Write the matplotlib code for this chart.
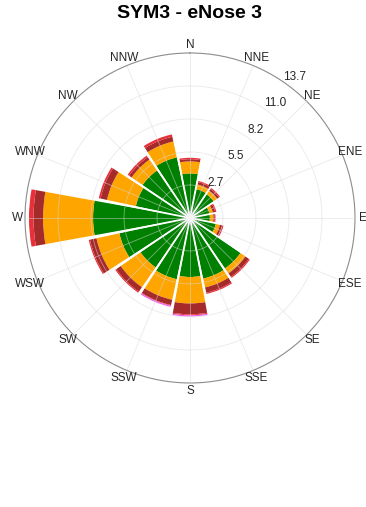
import numpy as np
import matplotlib.pyplot as plt

plt.rcParams['font.family'] = ['Liberation Sans', 'DejaVu Sans']

# Direction sectors (clockwise from north)
directions = ['N', 'NNE', 'NE', 'ENE', 'E', 'ESE', 'SE', 'SSE',
              'S', 'SSW', 'SW', 'WSW', 'W', 'WNW', 'NW', 'NNW']

# Frequency per speed class for each sector (stacked from the centre out)
class1 = [3.70, 2.45, 2.40, 1.65, 1.65, 2.20, 5.10, 5.15,
          4.90, 5.20, 5.00, 6.00, 8.05, 4.60, 4.80, 5.15]
class2 = [1.00, 0.40, 0.35, 0.30, 0.30, 0.35, 0.50, 0.75,
          2.20, 1.75, 2.00, 1.95, 4.15, 2.45, 1.10, 1.35]
class3 = [0.18, 0.20, 0.20, 0.20, 0.10, 0.20, 0.35, 0.45,
          0.90, 0.45, 0.45, 0.55, 0.80, 0.55, 0.25, 0.40]
class4 = [0.12, 0.10, 0.10, 0.10, 0.07, 0.10, 0.10, 0.10,
          0.08, 0.05, 0.10, 0.10, 0.37, 0.15, 0.15, 0.20]
class5 = [0.00, 0.00, 0.00, 0.00, 0.00, 0.00, 0.00, 0.00,
          0.10, 0.10, 0.00, 0.00, 0.00, 0.00, 0.00, 0.00]

ring_labels = ['2.7', '5.5', '8.2', '11.0', '13.7']
rmax = 13.7

classes = [class1, class2, class3, class4, class5]
colors = ['#008000', '#ffa500', '#a52a2a', '#e8303a', '#f060f0']

fig = plt.figure(figsize=(3.66, 5.07), dpi=100)
ax = fig.add_axes([0.0683, 0.2446, 0.9016, 0.6509], projection='polar')
ax.set_theta_zero_location('N')
ax.set_theta_direction(-1)

theta = np.deg2rad(np.arange(16) * 22.5)
width = np.deg2rad(20.5)

bottom = np.zeros(16)
for vals, c in zip(classes, colors):
    vals = np.array(vals)
    ax.bar(theta, vals, width=width, bottom=bottom, color=c,
           edgecolor='none', align='center', zorder=2)
    bottom += vals

ax.set_ylim(0, rmax)
ax.set_xticks([])
ax.set_yticks([])
ax.grid(False)
ax.spines['polar'].set_color('#8c8c8c')
ax.spines['polar'].set_linewidth(0.8)

# white separators between sectors
for t in theta + np.deg2rad(11.25):
    ax.plot([t, t], [0, rmax * 0.98], color='white', lw=1.3, zorder=2.5,
            solid_capstyle='butt')

# grid drawn on top, faint
rings = np.linspace(rmax / 5, rmax, 5)
tt = np.linspace(0, 2 * np.pi, 400)
for r in rings[:-1]:
    ax.plot(tt, np.full_like(tt, r), color='#d8d8d8', lw=0.6, alpha=0.55, zorder=3)
for t in theta:
    ax.plot([t, t], [0, rmax], color='#d8d8d8', lw=0.6, alpha=0.55, zorder=3)

# centre marker
ax.plot(tt, np.full_like(tt, 0.3), color='#c8c8c8', lw=0.8, zorder=4)
ax.fill(tt, np.full_like(tt, 0.3), color='#f4f4f4', zorder=4)

# direction labels
for t, d in zip(theta, directions):
    ax.text(t, rmax * 1.048, d, ha='center', va='center',
            fontsize=8.5, color='#262626', zorder=5)

# ring labels
lab_ang = np.deg2rad(36.5)
for r, s in zip(rings, ring_labels):
    ax.text(lab_ang, r + 0.9, s, ha='center', va='center',
            fontsize=8.5, color='#262626', zorder=5)

fig.text(0.5191, 1 - 13 / 507, 'SYM3 - eNose 3', ha='center', va='center',
         fontsize=14, fontweight='bold', color='black')

fig.savefig('out.png', dpi=100, facecolor='white')
